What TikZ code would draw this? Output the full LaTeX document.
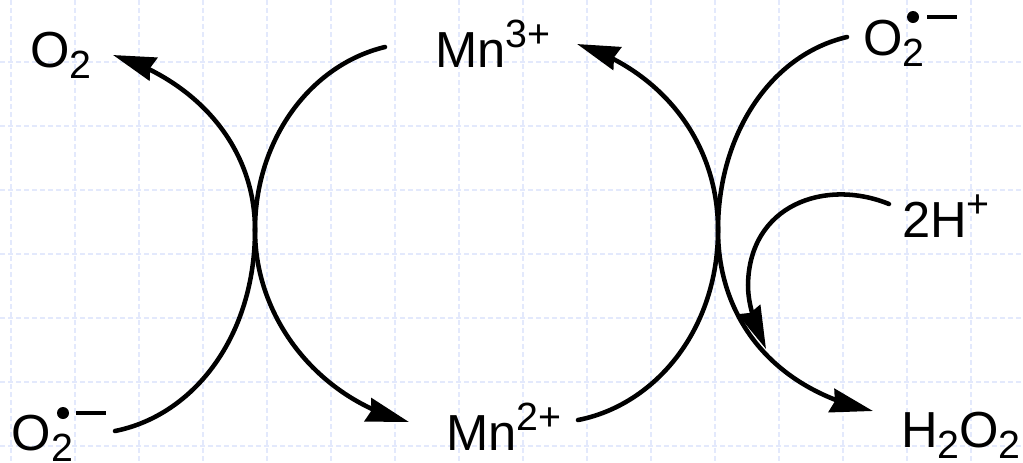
\documentclass[tikz,border=0pt]{standalone}
\usepackage{fontspec}
\setmainfont{Liberation Sans}
\usetikzlibrary{arrows.meta,bending}
\definecolor{gridc}{HTML}{E3E9FC}
\newcommand{\Sb}[1]{\raisebox{-8.5pt}{\fontsize{29.5}{29.5}\selectfont #1}}
\newcommand{\Sp}[1]{\raisebox{15pt}{\fontsize{29.5}{29.5}\selectfont #1}}
\tikzset{
  x=0.75pt,y=-0.75pt,
  gridline/.style={draw=gridc,line width=0.9pt,dash pattern=on 4pt off 2pt},
  chem/.style={anchor=base west,inner sep=0pt,outer sep=0pt,font=\fontsize{38}{38}\selectfont},
  curve/.style={draw=black,line width=3.4pt,line cap=round},
  arrowed/.style={curve,-{Stealth[length=32pt,width=18pt,inset=2.5pt,flex=0.5]}},
}
\begin{document}
\begin{tikzpicture}
\useasboundingbox (0,0) rectangle (1023,462);
\fill[white] (0,0) rectangle (1023,462);
\foreach \gx in {11,75,...,1011} \draw[gridline] (\gx,0) -- (\gx,462);
\foreach \gy in {62,126,...,446} \draw[gridline] (0,\gy) -- (1023,\gy);
% labels
\node[chem] (otwo) at (30,67) {O\Sb{2}};
\node[chem] (mnthree) at (435,67) {Mn\Sp{3+}};
\node[chem] (supr) at (863,55) {O\Sb{2}};
\node[chem] (twoh) at (902,237) {2H\Sp{+}};
\node[chem] (mntwo) at (446,450) {Mn\Sp{2+}};
\node[chem] (perox) at (901,447) {H\Sb{2}O\Sb{2}};
\node[chem] (supl) at (12,450) {O\Sb{2}};
% radical marks
\fill (913,17) circle (4.5pt) coordinate (dotr);
\fill (63,413) circle (4.5pt) coordinate (dotl);
\draw[line width=3pt] (76,413) -- (106,413);
\draw[line width=3pt] (927,17) -- (957,17);
% junctions and free ends
\coordinate (jl) at (255,230);
\coordinate (jr) at (718,230);
\coordinate (a1) at (115,431);
\coordinate (a2) at (113,55);
\coordinate (b1) at (385,47);
\coordinate (b2) at (409,422);
\coordinate (c1) at (578,420);
\coordinate (c2) at (577,44);
\coordinate (d1) at (847,37);
\coordinate (d2) at (873,411);
\coordinate (e1) at (889,204);
\coordinate (e2) at (766,349);
% curves
\path[arrowed] (a1) .. controls (195,415) and (255,335) .. (jl) .. controls (255,145) and (195,80) .. (a2);
\path[arrowed] (b1) .. controls (310,65) and (255,140) .. (jl) .. controls (255,320) and (320,400) .. (b2);
\path[arrowed] (c1) .. controls (655,405) and (718,330) .. (jr) .. controls (718,140) and (660,70) .. (c2);
\path[arrowed] (d1) .. controls (770,55) and (718,135) .. (jr) .. controls (718,320) and (775,390) .. (d2);
\path[arrowed] (e1) .. controls (825,178) and (749,205) .. (748,285) .. controls (748,305) and (755,325) .. (e2);
\end{tikzpicture}
\end{document}
